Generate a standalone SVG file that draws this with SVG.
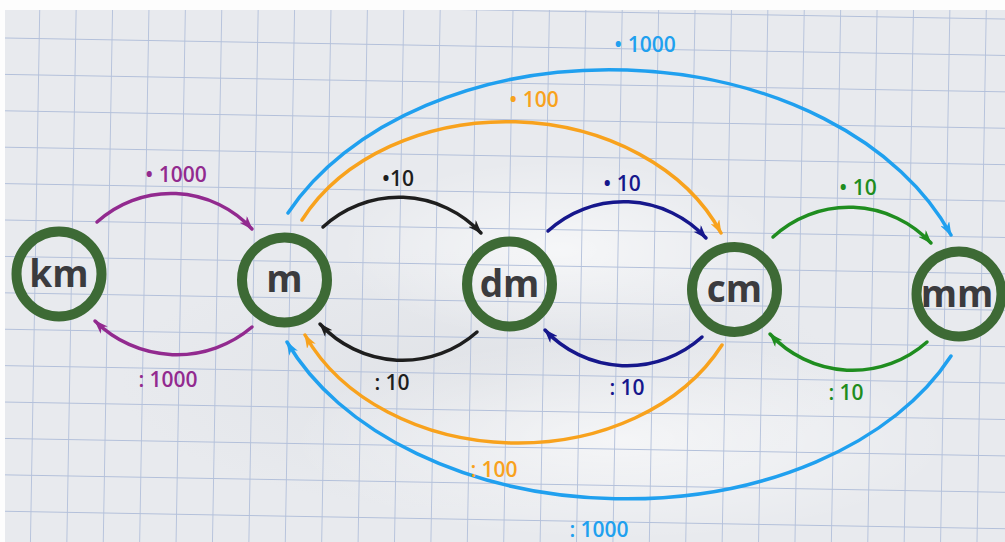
<svg xmlns="http://www.w3.org/2000/svg" width="1005" height="542" viewBox="0 0 1005 542">
  <style>
    .ring { fill: none; stroke: #3d6a35; stroke-width: 10; }
    .unit { font-family: "Open Sans", "Liberation Sans", sans-serif; font-weight: 700; font-size: 37px; fill: #3b3b3e; text-anchor: middle; }
    .lbl { font-family: "Open Sans", "Liberation Sans", sans-serif; font-weight: 600; font-size: 21px; text-anchor: middle; }
    .c { fill: none; stroke-width: 3.5; stroke-linecap: round; }
    .purple { stroke: #922a8f; } .tpurple { fill: #922a8f; }
    .black { stroke: #1e1e1e; } .tblack { fill: #1e1e1e; }
    .navy { stroke: #16178c; } .tnavy { fill: #16178c; }
    .green { stroke: #1f8d1f; } .tgreen { fill: #1f8d1f; }
    .orange { stroke: #f8a21d; } .torange { fill: #f8a21d; }
    .blue { stroke: #20a0ef; } .tblue { fill: #20a0ef; }
  </style>
  <defs>
    <pattern id="grid" patternUnits="userSpaceOnUse" x="39.4" y="37.4" width="36.4" height="36.4" patternTransform="rotate(1)">
      <path d="M0,0 V36.4 M0,0 H36.4" stroke="#b3c0da" stroke-width="1.8" fill="none"/>
    </pattern>
    <radialGradient id="shade1" cx="0.5" cy="0.5" r="0.5">
      <stop offset="0" stop-color="#ffffff" stop-opacity="0.6"/>
      <stop offset="1" stop-color="#ffffff" stop-opacity="0"/>
    </radialGradient>
    <radialGradient id="shade2" cx="0.5" cy="0.5" r="0.5">
      <stop offset="0" stop-color="#d2d5db" stop-opacity="0.35"/>
      <stop offset="1" stop-color="#d2d5db" stop-opacity="0"/>
    </radialGradient>
    <marker id="mPurple" viewBox="0 0 14 10" refX="13" refY="5" markerWidth="14" markerHeight="10" markerUnits="userSpaceOnUse" orient="auto"><path d="M0,0 L14,5 L0,10 L4,5 z" fill="#922a8f"/></marker>
    <marker id="mBlack" viewBox="0 0 14 10" refX="13" refY="5" markerWidth="14" markerHeight="10" markerUnits="userSpaceOnUse" orient="auto"><path d="M0,0 L14,5 L0,10 L4,5 z" fill="#1e1e1e"/></marker>
    <marker id="mNavy" viewBox="0 0 14 10" refX="13" refY="5" markerWidth="14" markerHeight="10" markerUnits="userSpaceOnUse" orient="auto"><path d="M0,0 L14,5 L0,10 L4,5 z" fill="#16178c"/></marker>
    <marker id="mGreen" viewBox="0 0 14 10" refX="13" refY="5" markerWidth="14" markerHeight="10" markerUnits="userSpaceOnUse" orient="auto"><path d="M0,0 L14,5 L0,10 L4,5 z" fill="#1f8d1f"/></marker>
    <marker id="mOrange" viewBox="0 0 14 10" refX="13" refY="5" markerWidth="14" markerHeight="10" markerUnits="userSpaceOnUse" orient="auto"><path d="M0,0 L14,5 L0,10 L4,5 z" fill="#f8a21d"/></marker>
    <marker id="mBlue" viewBox="0 0 14 10" refX="13" refY="5" markerWidth="14" markerHeight="10" markerUnits="userSpaceOnUse" orient="auto"><path d="M0,0 L14,5 L0,10 L4,5 z" fill="#20a0ef"/></marker>
  </defs>

  <g id="paper">
    <rect x="0" y="0" width="1005" height="542" fill="#fdfdfd"/>
    <rect x="5" y="10" width="1000" height="532" fill="#e8eaee"/>
    <ellipse cx="480" cy="380" rx="360" ry="130" fill="url(#shade2)"/>
    <ellipse cx="620" cy="440" rx="330" ry="100" fill="url(#shade1)"/>
    <ellipse cx="560" cy="250" rx="220" ry="90" fill="url(#shade1)"/>
    <rect x="5" y="10" width="1000" height="532" fill="url(#grid)"/>
  </g>

  <g id="connectors">
    <path class="c purple" d="M97,222 A110,110 0 0 1 252,229" marker-end="url(#mPurple)"/>
    <path class="c purple" d="M252,327 A116,116 0 0 1 95,321" marker-end="url(#mPurple)"/>
    <path class="c black" d="M323,227 A112,112 0 0 1 481,233" marker-end="url(#mBlack)"/>
    <path class="c black" d="M477,332 A112,112 0 0 1 320,324" marker-end="url(#mBlack)"/>
    <path class="c navy" d="M548,231 A112,112 0 0 1 706,238" marker-end="url(#mNavy)"/>
    <path class="c navy" d="M702,337 A112,112 0 0 1 545,330" marker-end="url(#mNavy)"/>
    <path class="c green" d="M773,237 A112,112 0 0 1 931,243" marker-end="url(#mGreen)"/>
    <path class="c green" d="M927,342 A112,112 0 0 1 770,334" marker-end="url(#mGreen)"/>
    <path class="c orange" d="M302,220 A230,178 1 0 1 721,233" marker-end="url(#mOrange)"/>
    <path class="c orange" d="M722,345 A230,178 1 0 1 305,335" marker-end="url(#mOrange)"/>
    <path class="c blue" d="M288,213 A360,252 1 0 1 951,235" marker-end="url(#mBlue)"/>
    <path class="c blue" d="M951,356 A360,244 1 0 1 287,342" marker-end="url(#mBlue)"/>

    <text class="lbl tpurple" x="176" y="182">• 1000</text>
    <text class="lbl tpurple" x="168" y="387">: 1000</text>
    <text class="lbl tblack" x="398" y="186">•10</text>
    <text class="lbl tblack" x="392" y="390">: 10</text>
    <text class="lbl tnavy" x="622" y="191">• 10</text>
    <text class="lbl tnavy" x="627" y="395">: 10</text>
    <text class="lbl tgreen" x="858" y="195">• 10</text>
    <text class="lbl tgreen" x="846" y="400">: 10</text>
    <text class="lbl torange" x="534" y="107">• 100</text>
    <text class="lbl torange" x="494" y="477">: 100</text>
    <text class="lbl tblue" x="645" y="52">• 1000</text>
    <text class="lbl tblue" x="599" y="537">: 1000</text>
  </g>

  <g id="node-km">
    <circle class="ring" cx="59" cy="274" r="42.5"/>
    <text class="unit" x="59" y="287">km</text>
  </g>
  <g id="node-m">
    <circle class="ring" cx="284.5" cy="280" r="42.5"/>
    <text class="unit" x="284.5" y="292">m</text>
  </g>
  <g id="node-dm">
    <circle class="ring" cx="509.5" cy="284" r="42.5"/>
    <text class="unit" x="509.5" y="297">dm</text>
  </g>
  <g id="node-cm">
    <circle class="ring" cx="734.5" cy="289.5" r="42.5"/>
    <text class="unit" x="734.5" y="302">cm</text>
  </g>
  <g id="node-mm">
    <circle class="ring" cx="959" cy="294" r="42.5"/>
    <text class="unit" x="957" y="307">mm</text>
  </g>
</svg>
